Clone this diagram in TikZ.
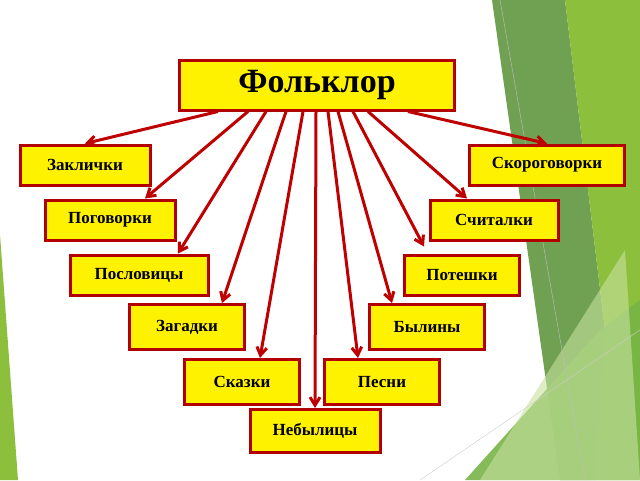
\documentclass[tikz,border=0pt]{standalone}
\usepackage{fontspec}
\setmainfont{Liberation Serif}
\usetikzlibrary{arrows.meta,calc}
\begin{document}
\begin{tikzpicture}[x=1pt,y=-1pt,
  box/.style={draw=red!70!black,line width=3pt,fill=yellow,font=\bfseries\fontsize{17}{20}\selectfont,minimum height=40pt,inner sep=0pt},
  con/.style={draw=red!75!black,line width=3pt,-{Straight Barb[length=8pt,width=10pt]}}]
\useasboundingbox (0,0) rectangle (640,480);
\fill[white] (0,0) rectangle (640,480);
% background decoration
\fill[color={rgb,255:red,140;green,192;blue,60}] (0,235) -- (18,480) -- (0,480) -- cycle;
\fill[color={rgb,255:red,112;green,160;blue,82}] (492,0) -- (565,0) -- (605,330) -- (595,480) -- (560,480) -- cycle;
\fill[color={rgb,255:red,140;green,192;blue,60}] (565,0) -- (640,0) -- (640,480) -- (595,480) -- (605,330) -- cycle;
\fill[color={rgb,255:red,120;green,180;blue,70},opacity=0.9] (465,480) -- (600,330) -- (640,300) -- (640,480) -- cycle;
\fill[color={rgb,255:red,200;green,225;blue,160},opacity=0.6] (480,480) -- (625,250) -- (640,480) -- cycle;
\draw[gray!50,thin] (500,0) -- (585,480);
\draw[gray!40,thin] (420,480) -- (640,330);
% nodes
\node[box,minimum width=275pt,minimum height=50pt,font=\bfseries\fontsize{34}{38}\selectfont] (f) at (317,85) {Фольклор};
\node[box,minimum width=130pt] (a) at (85,165) {Заклички};
\node[box,minimum width=155pt] (b) at (547,165) {Скороговорки};
\node[box,minimum width=130pt] (c) at (110,220) {Поговорки};
\node[box,minimum width=128pt] (d) at (494,220) {Считалки};
\node[box,minimum width=138pt] (e) at (139,275) {Пословицы};
\node[box,minimum width=115pt] (g) at (462,275) {Потешки};
\node[box,minimum width=115pt,minimum height=45pt] (h) at (187,327) {Загадки};
\node[box,minimum width=115pt,minimum height=45pt] (i) at (427,327) {Былины};
\node[box,minimum width=115pt,minimum height=45pt] (j) at (242,382) {Сказки};
\node[box,minimum width=115pt,minimum height=45pt] (k) at (382,382) {Песни};
\node[box,minimum width=130pt,minimum height=43pt] (l) at (315,431) {Небылицы};
% connectors
\draw[con] ($(f.south west)+(40,0)$) -- (a.north);
\draw[con] ($(f.south west)+(230,0)$) -- (b.north);
\draw[con] ($(f.south west)+(70,0)$) -- ($(c.north)+(35,0)$);
\draw[con] ($(f.south west)+(88,0)$) -- ($(e.north)+(39,0)$);
\draw[con] ($(f.south west)+(108,0)$) -- ($(h.north)+(35,0)$);
\draw[con] ($(f.south west)+(125,0)$) -- ($(j.north)+(18,0)$);
\draw[con] ($(f.south west)+(138,0)$) -- (l.north);
\draw[con] ($(f.south west)+(150,0)$) -- ($(k.north)+(-24,0)$);
\draw[con] ($(f.south west)+(160,0)$) -- ($(i.north)+(-35,0)$);
\draw[con] ($(f.south west)+(175,0)$) -- ($(g.north)+(-38,-7)$);
\draw[con] ($(f.south west)+(190,0)$) -- ($(d.north)+(-27,0)$);
\end{tikzpicture}
\end{document}
